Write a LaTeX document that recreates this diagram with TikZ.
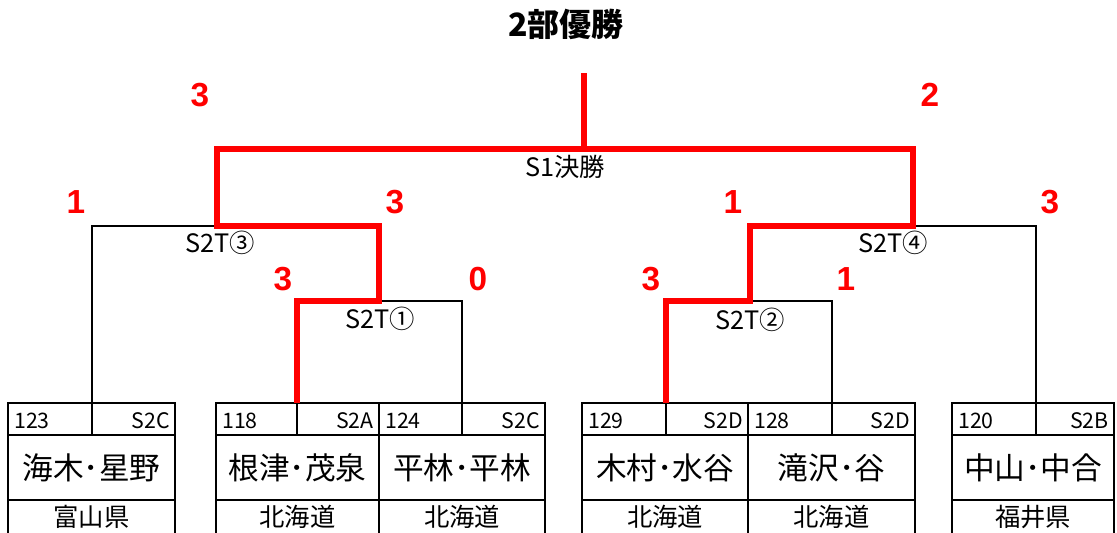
\documentclass[tikz,border=0pt]{standalone}
\usepackage{fontspec}
\setmainfont{Noto Sans CJK JP}
\newfontfamily\scorefont{Liberation Sans}
\begin{document}
\begin{tikzpicture}[x=0.75pt,y=-0.75pt,
  blk/.style={line width=2pt,black},
  win/.style={line width=5.2pt,red,line join=miter},
  matchlbl/.style={font=\fontsize{19}{19}\selectfont,inner sep=0pt},
  score/.style={font=\scorefont\bfseries\fontsize{25}{25}\selectfont,text=red,inner sep=0pt},
  numlbl/.style={font=\fontsize{16}{16}\selectfont,inner sep=0pt},
  namelbl/.style={font=\fontsize{23}{23}\selectfont,inner sep=0pt},
  preflbl/.style={font=\fontsize{19}{19}\selectfont,inner sep=0pt}]
\useasboundingbox (0,0) rectangle (1117,532);

% entry boxes
\foreach \L/\D/\R/\num/\cls/\nm/\pref/\id in {
  8/92/175/123/S2C/海木･星野/富山県/1,
  216/297/379/118/S2A/根津･茂泉/北海道/2,
  379/462/545/124/S2C/平林･平林/北海道/3,
  582/666/748/129/S2D/木村･水谷/北海道/4,
  748/832/915/128/S2D/滝沢･谷/北海道/5,
  952/1036/1114/120/S2B/中山･中合/福井県/6}{
  \draw[blk] (\L,534) -- (\L,403) -- (\R,403) -- (\R,534);
  \draw[blk] (\L,435) -- (\R,435);
  \draw[blk] (\L,500) -- (\R,500);
  \draw[blk] (\D,403) -- (\D,435);
  \coordinate (t\id) at (\D,403);
  \node[numlbl,anchor=west] (n\id) at (\L+6,421) {\num};
  \node[numlbl,anchor=east] (c\id) at (\R-5,421) {\cls};
  \node[namelbl] (p\id) at ({(\L+\R)/2},468) {\nm};
  \node[preflbl] (r\id) at ({(\L+\R)/2},517) {\pref};
}

% junctions
\coordinate (j1) at (379,301);
\coordinate (j2) at (750,301);
\coordinate (j3) at (217,226);
\coordinate (j4) at (913,226);
\coordinate (jf) at (584,149);
\coordinate (champ) at (584,73);

% black brackets
\draw[blk] (t2) |- (j1) -| (t3);
\draw[blk] (t4) |- (j2) -| (t5);
\draw[blk] (t1) |- (j3) -| (j1);
\draw[blk] (j2) |- (j4) -| (t6);
\draw[blk] (j3) |- (jf) -| (j4);

% winning paths
\draw[win] (t2) |- (j1) |- (j3) |- (jf) -- (champ);
\draw[win] (t4) |- (j2) |- (j4) |- (jf);

% match labels
\node[matchlbl] (mf) at (565,167) {S1決勝};
\node[matchlbl] (m3) at (220,243) {S2T③};
\node[matchlbl] (m1) at (380,319) {S2T①};
\node[matchlbl] (m4) at (893,243) {S2T④};
\node[matchlbl] (m2) at (750,320) {S2T②};

% title
\node[font=\bfseries\fontsize{24}{24}\selectfont,inner sep=0pt] (title) at (566,24) {2部優勝};

% scores
\node[score] (s1) at (200,95) {3};
\node[score] (s2) at (930,95) {2};
\node[score] (s3) at (76,202) {1};
\node[score] (s4) at (395,202) {3};
\node[score] (s5) at (733,202) {1};
\node[score] (s6) at (1050,202) {3};
\node[score] (s7) at (283,279) {3};
\node[score] (s8) at (478,279) {0};
\node[score] (s9) at (651,279) {3};
\node[score] (s10) at (846,279) {1};
\end{tikzpicture}
\end{document}
